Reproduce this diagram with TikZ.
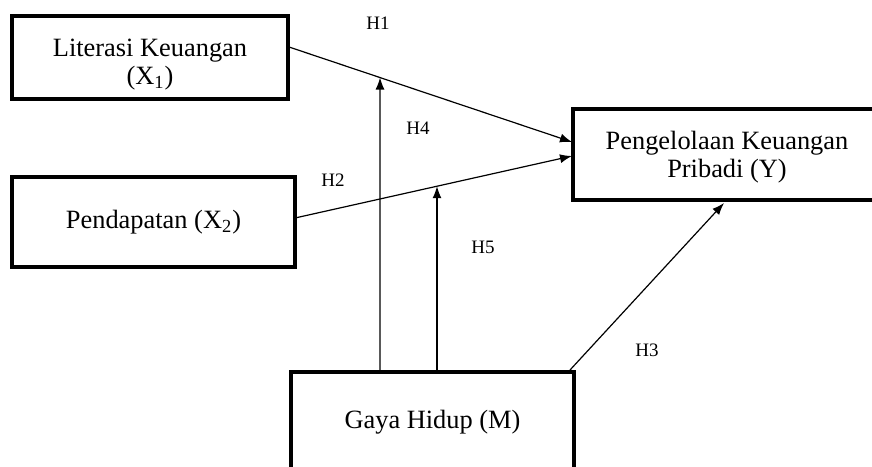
\documentclass[tikz,border=0pt]{standalone}
\usepackage{fontspec}
\setmainfont{Liberation Serif}
\usetikzlibrary{arrows.meta}
\begin{document}
\begin{tikzpicture}[x=0.5pt,y=-0.5pt,
  box/.style={draw=black,line width=2pt,inner sep=0pt},
  boxtext/.style={font=\fontsize{13.2}{14}\selectfont,align=center,inner sep=0pt},
  hlabel/.style={font=\fontsize{9.5}{11}\selectfont,inner sep=0pt},
  arr/.style={line width=0.6pt,-{Latex[length=6pt,width=4.5pt]}}]
\clip (0,0) rectangle (872,466);
\fill[white] (0,0) rectangle (872,466);
% boxes
\node[box,minimum width=276pt*0.5,minimum height=83pt*0.5] (x1) at (150,57.5) {};
\node[box,minimum width=283pt*0.5,minimum height=90pt*0.5] (x2) at (153.5,222) {};
\node[box,minimum width=308pt*0.5,minimum height=91pt*0.5] (y) at (727,154.5) {};
\node[box,minimum width=283pt*0.5,minimum height=100pt*0.5] (m) at (432.5,422) {};
% texts
\node[boxtext] (x1t) at (150,65) {Literasi Keuangan\\(X\textsubscript{1})};
\node[boxtext] (x2t) at (153.5,222) {Pendapatan (X\textsubscript{2})};
\node[boxtext] (yt) at (727,157) {Pengelolaan Keuangan\\Pribadi (Y)};
\node[boxtext] (mt) at (432.5,422) {Gaya Hidup (M)};
% connector endpoints
\coordinate (a1) at (289,47);
\coordinate (b1) at (572,142);
\coordinate (a2) at (295,218);
\coordinate (b2) at (572,156);
\coordinate (m1) at (380,370);
\coordinate (m2) at (437,370);
\coordinate (m3) at (570,370);
\coordinate (b3) at (724,203);
\coordinate (m1up) at (380,0);
\coordinate (m2up) at (437,0);
\coordinate (h4end) at (intersection of a1--b1 and m1--m1up);
\coordinate (h5end) at (intersection of a2--b2 and m2--m2up);
% connectors
\draw[arr] (a1) -- (b1);
\draw[arr] (a2) -- (b2);
\draw[arr] (m1) -- (h4end);
\draw[arr] (m2) -- (h5end);
\draw[arr] (m3) -- (b3);
% labels
\node[hlabel] (h1) at (378,23) {H1};
\node[hlabel] (h2) at (333,180) {H2};
\node[hlabel] (h3) at (647,350) {H3};
\node[hlabel] (h4) at (418,128) {H4};
\node[hlabel] (h5) at (483,247) {H5};
\end{tikzpicture}
\end{document}
